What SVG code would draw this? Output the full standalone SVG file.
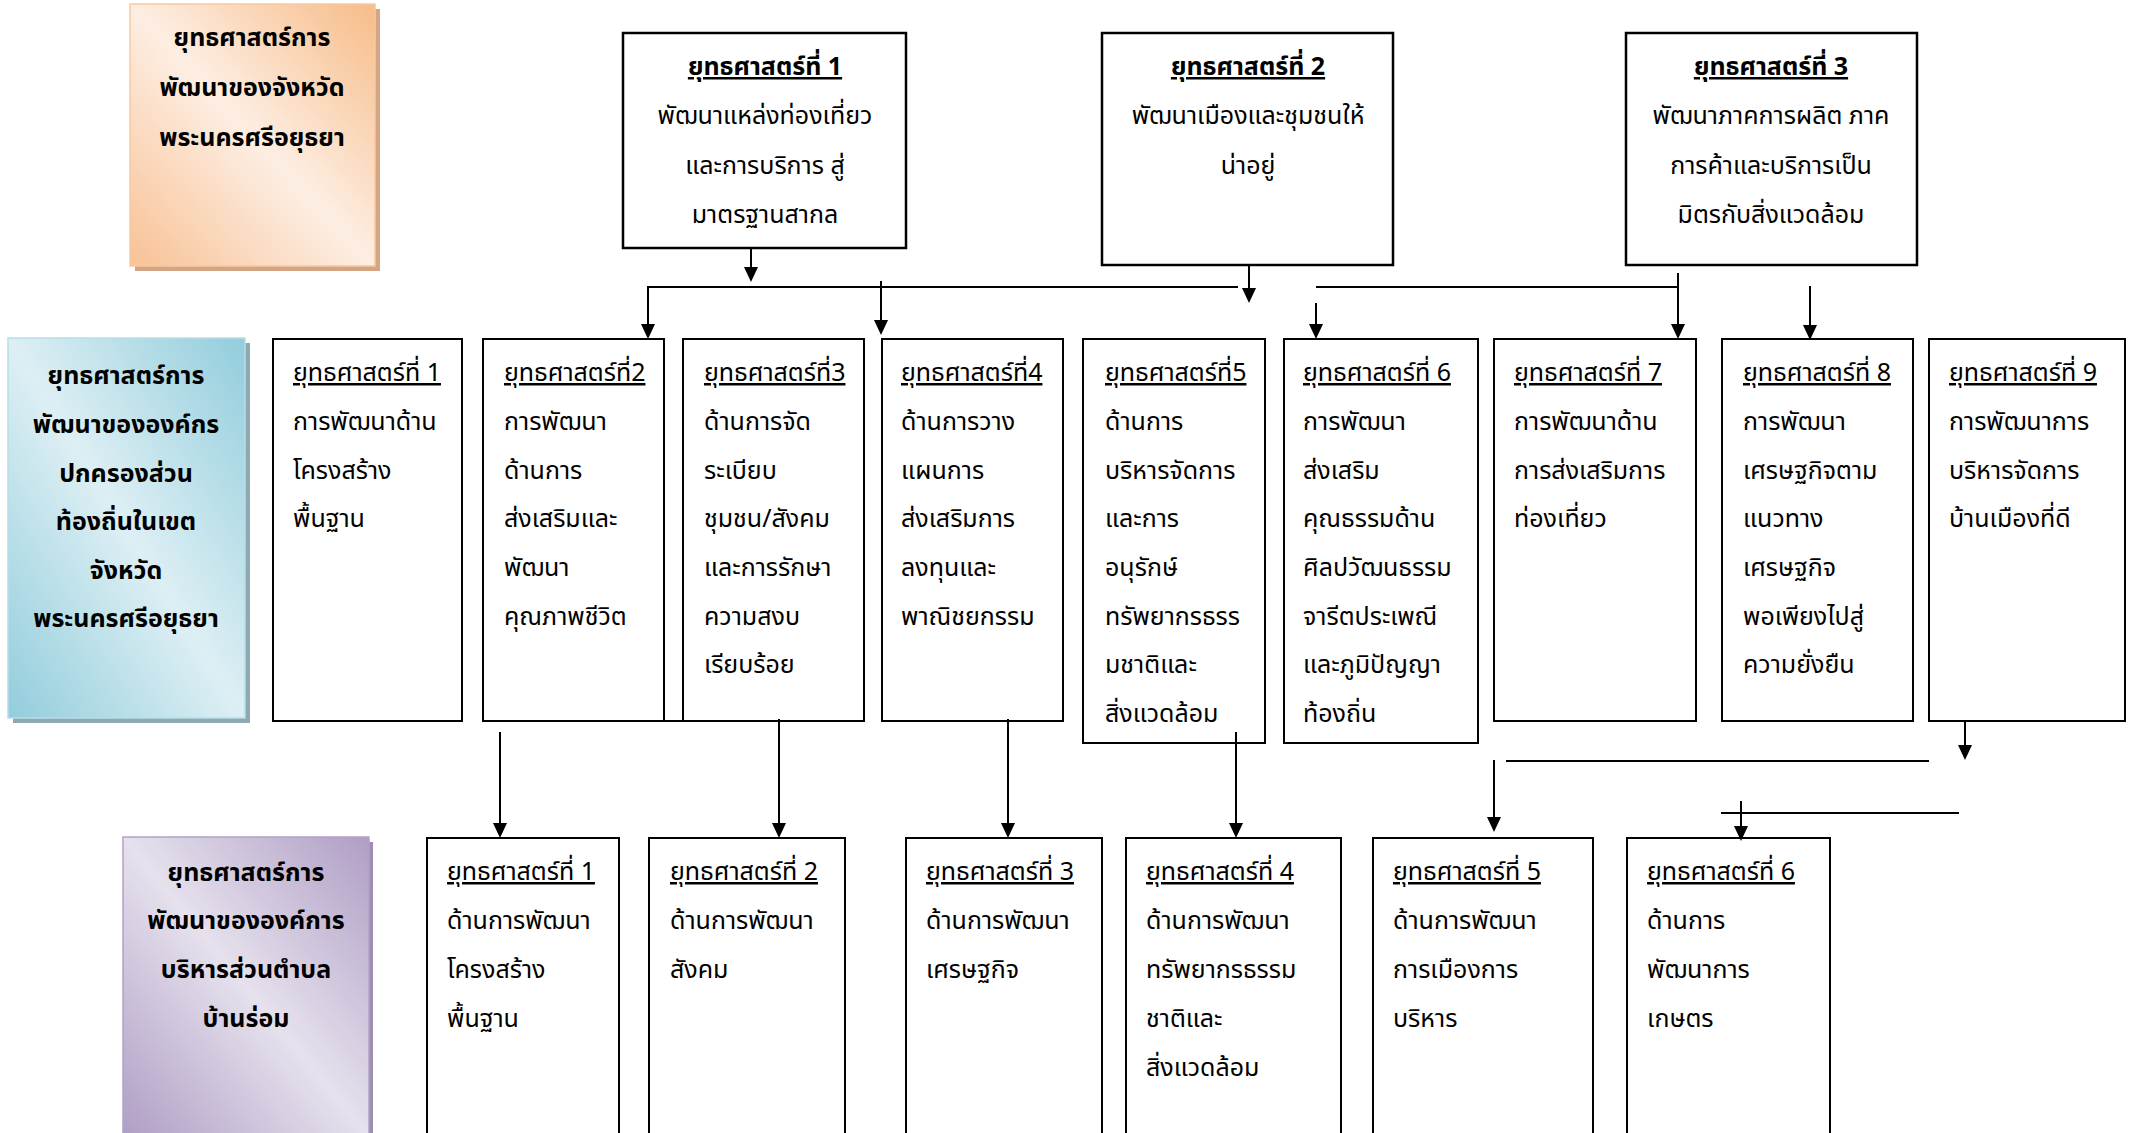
<svg xmlns="http://www.w3.org/2000/svg" width="2129" height="1133" viewBox="0 0 2129 1133">
<style>
  .t { font-family: "Noto Sans Thai", "Noto Sans Thai Looped", "Noto Sans", "DejaVu Sans", sans-serif; font-size: 25px; fill: #000; }
  .c { text-anchor: middle; }
  .b { font-weight: bold; }
  .u { text-decoration: underline; }
  .box { fill: #fff; stroke: #000; stroke-width: 2; }
  .bigbox { fill: #fff; stroke: #000; stroke-width: 2.5; }
  .conn line { stroke: #000; stroke-width: 2; fill: none; }
  .conn .arr { marker-end: url(#ah); }
</style>
<defs>
  <linearGradient id="gOrange" x1="1" y1="0" x2="0" y2="1">
    <stop offset="0" stop-color="#F7BC88"/>
    <stop offset="0.5" stop-color="#FDEEE3"/>
    <stop offset="1" stop-color="#F8C296"/>
  </linearGradient>
  <linearGradient id="gBlue" x1="1" y1="0" x2="0" y2="1">
    <stop offset="0" stop-color="#92CDDC"/>
    <stop offset="0.5" stop-color="#DDEFF4"/>
    <stop offset="1" stop-color="#92CDDC"/>
  </linearGradient>
  <linearGradient id="gPurple" x1="1" y1="0" x2="0" y2="1">
    <stop offset="0" stop-color="#AF9EC5"/>
    <stop offset="0.5" stop-color="#E6E1ED"/>
    <stop offset="1" stop-color="#AF9EC5"/>
  </linearGradient>
  <marker id="ah" viewBox="0 0 15 14" markerUnits="userSpaceOnUse" markerWidth="15" markerHeight="14" refX="11" refY="7" orient="auto">
    <path d="M0,0 L15,7 L0,14 z" fill="#000"/>
  </marker>
</defs>

<!-- Left category boxes -->
<g id="cat-province">
  <rect x="135" y="9" width="245" height="262" fill="#D2A584"/>
  <rect x="130" y="4" width="245" height="262" fill="url(#gOrange)" stroke="#F9C9A0" stroke-width="1.5"/>
  <text class="t c b" x="252" y="46">ยุทธศาสตร์การ</text>
  <text class="t c b" x="252" y="96">พัฒนาของจังหวัด</text>
  <text class="t c b" x="252" y="146">พระนครศรีอยุธยา</text>
</g>
<g id="cat-local">
  <rect x="13" y="343" width="237" height="380" fill="#8FA9B3"/>
  <rect x="8" y="338" width="237" height="380" fill="url(#gBlue)" stroke="#B7DEE8" stroke-width="1.5"/>
  <text class="t c b" x="126" y="384">ยุทธศาสตร์การ</text>
  <text class="t c b" x="126" y="433">พัฒนาขององค์กร</text>
  <text class="t c b" x="126" y="482">ปกครองส่วน</text>
  <text class="t c b" x="126" y="530">ท้องถิ่นในเขต</text>
  <text class="t c b" x="126" y="579">จังหวัด</text>
  <text class="t c b" x="126" y="627">พระนครศรีอยุธยา</text>
</g>
<g id="cat-tambon">
  <rect x="127" y="842" width="246" height="300" fill="#9E8FB2"/>
  <rect x="123" y="837" width="246" height="300" fill="url(#gPurple)" stroke="#B2A1C7" stroke-width="1.5"/>
  <text class="t c b" x="246" y="881">ยุทธศาสตร์การ</text>
  <text class="t c b" x="246" y="929">พัฒนาขององค์การ</text>
  <text class="t c b" x="246" y="978">บริหารส่วนตำบล</text>
  <text class="t c b" x="246" y="1027">บ้านร่อม</text>
</g>

<!-- Province strategies -->
<g id="p1">
  <rect class="bigbox" x="623" y="33" width="283" height="215"/>
  <text class="t c b u" x="765" y="75">ยุทธศาสตร์ที่ 1</text>
  <text class="t c" x="765" y="124">พัฒนาแหล่งท่องเที่ยว</text>
  <text class="t c" x="765" y="174">และการบริการ สู่</text>
  <text class="t c" x="765" y="223">มาตรฐานสากล</text>
</g>
<g id="p2">
  <rect class="bigbox" x="1102" y="33" width="291" height="232"/>
  <text class="t c b u" x="1248" y="75">ยุทธศาสตร์ที่ 2</text>
  <text class="t c" x="1248" y="124">พัฒนาเมืองและชุมชนให้</text>
  <text class="t c" x="1248" y="174">น่าอยู่</text>
</g>
<g id="p3">
  <rect class="bigbox" x="1626" y="33" width="291" height="232"/>
  <text class="t c b u" x="1771" y="75">ยุทธศาสตร์ที่ 3</text>
  <text class="t c" x="1771" y="124">พัฒนาภาคการผลิต ภาค</text>
  <text class="t c" x="1771" y="174">การค้าและบริการเป็น</text>
  <text class="t c" x="1771" y="223">มิตรกับสิ่งแวดล้อม</text>
</g>

<!-- Local government strategies -->
<g id="m1">
  <rect class="box" x="273" y="339" width="189" height="382"/>
  <text class="t u" x="293" y="381">ยุทธศาสตร์ที่ 1</text>
  <text class="t" x="293" y="430">การพัฒนาด้าน</text>
  <text class="t" x="293" y="479">โครงสร้าง</text>
  <text class="t" x="293" y="527">พื้นฐาน</text>
</g>
<g id="m2">
  <rect class="box" x="483" y="339" width="181" height="382"/>
  <text class="t u" x="504" y="381">ยุทธศาสตร์ที่2</text>
  <text class="t" x="504" y="430">การพัฒนา</text>
  <text class="t" x="504" y="479">ด้านการ</text>
  <text class="t" x="504" y="527">ส่งเสริมและ</text>
  <text class="t" x="504" y="576">พัฒนา</text>
  <text class="t" x="504" y="625">คุณภาพชีวิต</text>
</g>
<g id="m3">
  <rect class="box" x="683" y="339" width="181" height="382"/>
  <text class="t u" x="704" y="381">ยุทธศาสตร์ที่3</text>
  <text class="t" x="704" y="430">ด้านการจัด</text>
  <text class="t" x="704" y="479">ระเบียบ</text>
  <text class="t" x="704" y="527">ชุมชน/สังคม</text>
  <text class="t" x="704" y="576">และการรักษา</text>
  <text class="t" x="704" y="625">ความสงบ</text>
  <text class="t" x="704" y="673">เรียบร้อย</text>
</g>
<g id="m4">
  <rect class="box" x="882" y="339" width="181" height="382"/>
  <text class="t u" x="901" y="381">ยุทธศาสตร์ที่4</text>
  <text class="t" x="901" y="430">ด้านการวาง</text>
  <text class="t" x="901" y="479">แผนการ</text>
  <text class="t" x="901" y="527">ส่งเสริมการ</text>
  <text class="t" x="901" y="576">ลงทุนและ</text>
  <text class="t" x="901" y="625">พาณิชยกรรม</text>
</g>
<g id="m5">
  <rect class="box" x="1083" y="339" width="182" height="404"/>
  <text class="t u" x="1105" y="381">ยุทธศาสตร์ที่5</text>
  <text class="t" x="1105" y="430">ด้านการ</text>
  <text class="t" x="1105" y="479">บริหารจัดการ</text>
  <text class="t" x="1105" y="527">และการ</text>
  <text class="t" x="1105" y="576">อนุรักษ์</text>
  <text class="t" x="1105" y="625">ทรัพยากรธรร</text>
  <text class="t" x="1105" y="673">มชาติและ</text>
  <text class="t" x="1105" y="722">สิ่งแวดล้อม</text>
</g>
<g id="m6">
  <rect class="box" x="1284" y="339" width="194" height="404"/>
  <text class="t u" x="1303" y="381">ยุทธศาสตร์ที่ 6</text>
  <text class="t" x="1303" y="430">การพัฒนา</text>
  <text class="t" x="1303" y="479">ส่งเสริม</text>
  <text class="t" x="1303" y="527">คุณธรรมด้าน</text>
  <text class="t" x="1303" y="576">ศิลปวัฒนธรรม</text>
  <text class="t" x="1303" y="625">จารีตประเพณี</text>
  <text class="t" x="1303" y="673">และภูมิปัญญา</text>
  <text class="t" x="1303" y="722">ท้องถิ่น</text>
</g>
<g id="m7">
  <rect class="box" x="1494" y="339" width="202" height="382"/>
  <text class="t u" x="1514" y="381">ยุทธศาสตร์ที่ 7</text>
  <text class="t" x="1514" y="430">การพัฒนาด้าน</text>
  <text class="t" x="1514" y="479">การส่งเสริมการ</text>
  <text class="t" x="1514" y="527">ท่องเที่ยว</text>
</g>
<g id="m8">
  <rect class="box" x="1722" y="339" width="191" height="382"/>
  <text class="t u" x="1743" y="381">ยุทธศาสตร์ที่ 8</text>
  <text class="t" x="1743" y="430">การพัฒนา</text>
  <text class="t" x="1743" y="479">เศรษฐกิจตาม</text>
  <text class="t" x="1743" y="527">แนวทาง</text>
  <text class="t" x="1743" y="576">เศรษฐกิจ</text>
  <text class="t" x="1743" y="625">พอเพียงไปสู่</text>
  <text class="t" x="1743" y="673">ความยั่งยืน</text>
</g>
<g id="m9">
  <rect class="box" x="1929" y="339" width="196" height="382"/>
  <text class="t u" x="1949" y="381">ยุทธศาสตร์ที่ 9</text>
  <text class="t" x="1949" y="430">การพัฒนาการ</text>
  <text class="t" x="1949" y="479">บริหารจัดการ</text>
  <text class="t" x="1949" y="527">บ้านเมืองที่ดี</text>
</g>

<!-- Tambon strategies -->
<g id="b1">
  <rect class="box" x="427" y="838" width="192" height="300"/>
  <text class="t u" x="447" y="880">ยุทธศาสตร์ที่ 1</text>
  <text class="t" x="447" y="929">ด้านการพัฒนา</text>
  <text class="t" x="447" y="978">โครงสร้าง</text>
  <text class="t" x="447" y="1027">พื้นฐาน</text>
</g>
<g id="b2">
  <rect class="box" x="649" y="838" width="196" height="300"/>
  <text class="t u" x="670" y="880">ยุทธศาสตร์ที่ 2</text>
  <text class="t" x="670" y="929">ด้านการพัฒนา</text>
  <text class="t" x="670" y="978">สังคม</text>
</g>
<g id="b3">
  <rect class="box" x="906" y="838" width="196" height="300"/>
  <text class="t u" x="926" y="880">ยุทธศาสตร์ที่ 3</text>
  <text class="t" x="926" y="929">ด้านการพัฒนา</text>
  <text class="t" x="926" y="978">เศรษฐกิจ</text>
</g>
<g id="b4">
  <rect class="box" x="1126" y="838" width="215" height="300"/>
  <text class="t u" x="1146" y="880">ยุทธศาสตร์ที่ 4</text>
  <text class="t" x="1146" y="929">ด้านการพัฒนา</text>
  <text class="t" x="1146" y="978">ทรัพยากรธรรม</text>
  <text class="t" x="1146" y="1027">ชาติและ</text>
  <text class="t" x="1146" y="1076">สิ่งแวดล้อม</text>
</g>
<g id="b5">
  <rect class="box" x="1373" y="838" width="220" height="300"/>
  <text class="t u" x="1393" y="880">ยุทธศาสตร์ที่ 5</text>
  <text class="t" x="1393" y="929">ด้านการพัฒนา</text>
  <text class="t" x="1393" y="978">การเมืองการ</text>
  <text class="t" x="1393" y="1027">บริหาร</text>
</g>
<g id="b6">
  <rect class="box" x="1627" y="838" width="203" height="300"/>
  <text class="t u" x="1647" y="880">ยุทธศาสตร์ที่ 6</text>
  <text class="t" x="1647" y="929">ด้านการ</text>
  <text class="t" x="1647" y="978">พัฒนาการ</text>
  <text class="t" x="1647" y="1027">เกษตร</text>
</g>

<!-- Connectors -->
<g id="connectors" class="conn">
  <line x1="664" y1="721" x2="683" y2="721"/>
  <line class="arr" x1="751" y1="248" x2="751" y2="278"/>
  <line x1="648" y1="287" x2="1238" y2="287"/>
  <line class="arr" x1="648" y1="286" x2="648" y2="335"/>
  <line class="arr" x1="881" y1="281" x2="881" y2="331"/>
  <line class="arr" x1="1249" y1="265" x2="1249" y2="299"/>
  <line x1="1316" y1="287" x2="1678" y2="287"/>
  <line class="arr" x1="1316" y1="303" x2="1316" y2="335"/>
  <line class="arr" x1="1678" y1="273" x2="1678" y2="335"/>
  <line class="arr" x1="1810" y1="286" x2="1810" y2="336"/>
  <line class="arr" x1="500" y1="732" x2="500" y2="834"/>
  <line class="arr" x1="779" y1="719" x2="779" y2="834"/>
  <line class="arr" x1="1008" y1="719" x2="1008" y2="834"/>
  <line class="arr" x1="1236" y1="732" x2="1236" y2="834"/>
  <line class="arr" x1="1965" y1="721" x2="1965" y2="756"/>
  <line x1="1506" y1="761" x2="1929" y2="761"/>
  <line class="arr" x1="1494" y1="760" x2="1494" y2="828"/>
  <line x1="1721" y1="813" x2="1959" y2="813"/>
  <line class="arr" x1="1741" y1="801" x2="1741" y2="837"/>
</g>
</svg>
